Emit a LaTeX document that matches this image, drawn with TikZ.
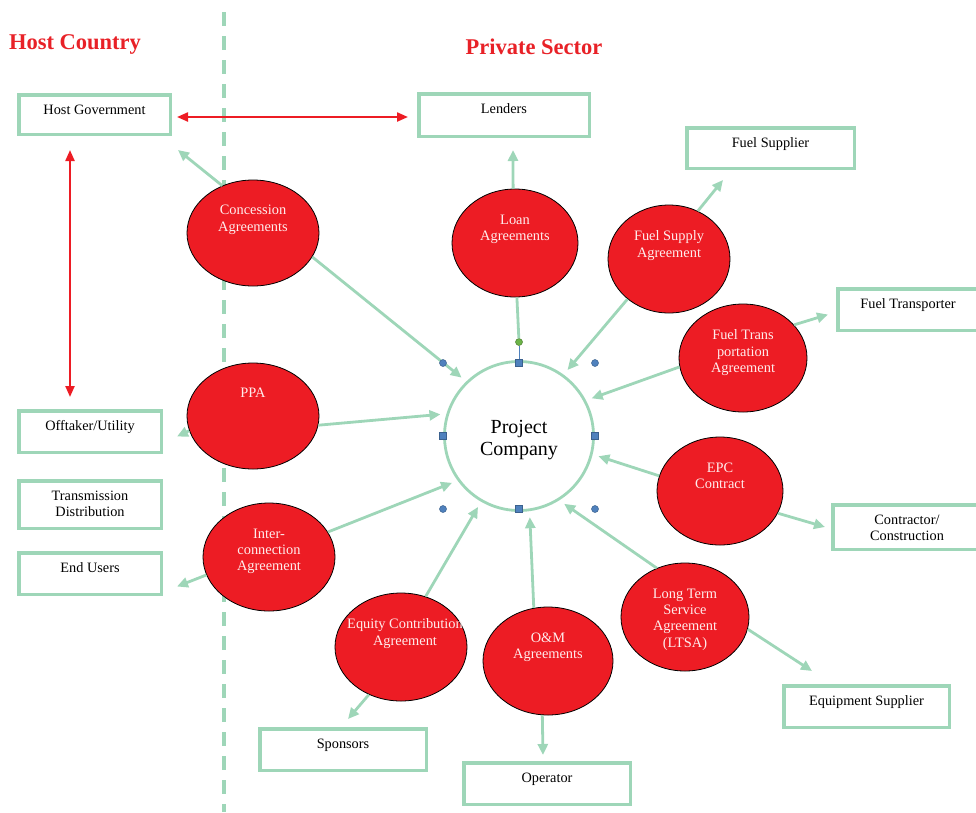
\documentclass[tikz,border=0pt]{standalone}
\usepackage{fontspec}
\setmainfont{Liberation Serif}
\usetikzlibrary{arrows.meta,shapes.geometric,calc}
\definecolor{mint}{RGB}{158,214,184}
\definecolor{ered}{RGB}{237,28,36}
\definecolor{tred}{RGB}{232,33,39}
\definecolor{etxt}{RGB}{255,236,236}
\definecolor{hblue}{RGB}{79,129,189}
\definecolor{hgreen}{RGB}{108,180,72}
\begin{document}
\begin{tikzpicture}[x=1pt,y=-1pt,
  title/.style={font=\fontsize{22.5}{26}\selectfont\bfseries,text=tred,inner sep=0pt},
  box/.style={draw=mint,line width=3.5pt,fill=white,inner sep=0pt},
  boxtxt/.style={anchor=north,inner sep=0pt,align=center,font=\fontsize{14.3}{15.5}\selectfont,text=black},
  agr/.style={ellipse,draw=black,line width=0.8pt,fill=ered,inner sep=0pt},
  agrtxt/.style={anchor=north,inner sep=0pt,align=center,font=\fontsize{14.4}{16.3}\selectfont,text=etxt},
  flow/.style={draw=mint,line width=2.8pt,-{Triangle[length=11pt,width=10pt]}},
  inflow/.style={flow,shorten >=6pt},
  link/.style={draw=ered,line width=2.2pt,{Triangle[length=11pt,width=9pt]}-{Triangle[length=11pt,width=9pt]}},
  divider/.style={draw=mint,line width=4pt,dash pattern=on 14pt off 10pt},
  hsq/.style={rectangle,fill=hblue,draw=hblue!75!black,line width=0.5pt,minimum size=7pt,inner sep=0pt},
  hci/.style={circle,fill=hblue,draw=hblue!75!black,line width=0.5pt,minimum size=7pt,inner sep=0pt},
  hrot/.style={circle,fill=hgreen,draw=hgreen!70!black,line width=0.5pt,minimum size=7pt,inner sep=0pt}
]
\useasboundingbox (0,0) rectangle (976,812);

% divider
\coordinate (dtop) at (224,12);
\coordinate (dbot) at (224,812);
\draw[divider] (dtop) -- (dbot);

% titles
\node[title] (hc) at (75,44) {Host Country};
\node[title] (ps) at (534,47) {Private Sector};

% boxes
\node[box,minimum width=151.5pt,minimum height=39.5pt] (hg) at (94.5,114.5) {};
\node[box,minimum width=170.5pt,minimum height=42.5pt] (lend) at (504,115) {};
\node[box,minimum width=167.5pt,minimum height=40.5pt] (fsup) at (770.5,148) {};
\node[box,minimum width=140.5pt,minimum height=41.5pt] (ftr) at (908,309.5) {};
\node[box,minimum width=142.5pt,minimum height=41.5pt] (off) at (90,431.5) {};
\node[box,minimum width=142.5pt,minimum height=47.5pt] (td) at (90,504.5) {};
\node[box,minimum width=142.5pt,minimum height=41.5pt] (eu) at (90,573.5) {};
\node[box,minimum width=148.5pt,minimum height=44.5pt] (cc) at (907,527) {};
\node[box,minimum width=165.5pt,minimum height=41.5pt] (eq) at (866.5,706.5) {};
\node[box,minimum width=166.5pt,minimum height=41.5pt] (sp) at (343,749.5) {};
\node[box,minimum width=166.5pt,minimum height=41.5pt] (op) at (547,783.5) {};

\node[boxtxt] (hgt) at ($(hg.north)+(0,11.5)$) {Host Government};
\node[boxtxt] (lendt) at ($(lend.north)+(0,11.5)$) {Lenders};
\node[boxtxt] (fsupt) at ($(fsup.north)+(0,11.5)$) {Fuel Supplier};
\node[boxtxt] (ftrt) at ($(ftr.north)+(0,11.5)$) {Fuel Transporter};
\node[boxtxt] (offt) at ($(off.north)+(0,11.5)$) {Offtaker/Utility};
\node[boxtxt] (tdt) at ($(td.north)+(0,12)$) {Transmission\\Distribution};
\node[boxtxt] (eut) at ($(eu.north)+(0,11.5)$) {End Users};
\node[boxtxt] (cct) at ($(cc.north)+(0,12)$) {Contractor/\\Construction};
\node[boxtxt] (eqt) at ($(eq.north)+(0,11.5)$) {Equipment Supplier};
\node[boxtxt] (spt) at ($(sp.north)+(0,11.5)$) {Sponsors};
\node[boxtxt] (opt) at ($(op.north)+(0,12)$) {Operator};

% project company
\node[circle,draw=mint,line width=2.8pt,minimum size=149pt,inner sep=0pt,
      label={[name=pct,align=center,font=\fontsize{20}{21.5}\selectfont,yshift=-4pt]center:Project\\Company}] (pc) at (519,436) {};

% agreements
\node[agr,minimum width=132pt,minimum height=106pt] (conc) at (253,233) {};
\node[agr,minimum width=126pt,minimum height=108pt] (loan) at (515,243) {};
\node[agr,minimum width=122pt,minimum height=108pt] (fsa) at (669,259) {};
\node[agr,minimum width=128pt,minimum height=108pt] (fta) at (743,358) {};
\node[agr,minimum width=132pt,minimum height=106pt] (ppa) at (253,416) {};
\node[agr,minimum width=132pt,minimum height=108pt] (ic) at (269,557) {};
\node[agr,minimum width=126pt,minimum height=108pt] (epc) at (720,491) {};
\node[agr,minimum width=128pt,minimum height=108pt] (ltsa) at (685,617) {};
\node[agr,minimum width=132pt,minimum height=108pt] (eca) at (401,647) {};
\node[agr,minimum width=130pt,minimum height=108pt] (om) at (548,661) {};

\node[agrtxt] (conct) at ($(conc.center)+(0,-28)$) {Concession\\Agreements};
\node[agrtxt] (loant) at ($(loan.center)+(0,-28.5)$) {Loan\\Agreements};
\node[agrtxt] (fsat) at ($(fsa.center)+(0,-28.5)$) {Fuel Supply\\Agreement};
\node[agrtxt] (ftat) at ($(fta.center)+(0,-28.5)$) {Fuel Trans\\portation\\Agreement};
\node[agrtxt] (ppat) at ($(ppa.center)+(0,-28)$) {PPA};
\node[agrtxt] (ict) at ($(ic.center)+(0,-28.5)$) {Inter-\\connection\\Agreement};
\node[agrtxt] (epct) at ($(epc.center)+(0,-28.5)$) {EPC\\Contract};
\node[agrtxt] (ltsat) at ($(ltsa.center)+(0,-28.5)$) {Long Term\\Service\\Agreement\\(LTSA)};
\node[agrtxt] (ecat) at ($(eca.center)+(4,-28.5)$) {Equity Contribution\\Agreement};
\node[agrtxt] (omt) at ($(om.center)+(0,-28.5)$) {O\&M\\Agreements};

% flows into project company
\draw[inflow] (conc.-22) -- (pc.134);
\draw[inflow] (fsa.224) -- (pc.54);
\draw[inflow] (fta.188) -- (pc.28);
\draw[inflow] (ppa.-8) -- (pc.163);
\draw[inflow] (epc.166) -- (pc.-14);
\draw[inflow] (ic.23) -- (pc.216);
\draw[inflow] (ltsa.120) -- (pc.-58);
\draw[inflow] (eca.64) -- (pc.240);
\draw[inflow] (om.105) -- (pc.-82);

% flows to parties
\draw[flow] (conc.123) -- ($(hg.south east)+(6,14)$);
\draw[flow] (loan.92) -- ($(lend.south)+(9,12)$);
\draw[flow] (fsa.59) -- ($(fsup.south west)+(38,10)$);
\draw[flow] (fta.33) -- ($(ftr.west)+(-8,5)$);
\draw[flow] (ppa.193) -- ($(off.east)+(14,5)$);
\draw[flow] (epc.-21) -- ($(cc.west)+(-6,0)$);
\draw[flow] (ic.196) -- ($(eu.east)+(14,13)$);
\draw[flow] (ltsa.-11) -- ($(eq.north west)+(30,-13)$);
\draw[flow] (eca.236) -- ($(sp.north)+(5,-8)$);
\draw[flow] (om.264) -- ($(op.north)+(-4,-6)$);

% red links
\draw[link] ($(hg.east)+(5,2.5)$) -- ($(lend.west)+(-9,2)$);
\draw[link] ($(hg.south)+(-24.5,14)$) -- ($(off.north)+(-20,-12)$);

% selection handles
\node[hrot] (hr) at (519,342) {};
\draw[draw=mint,line width=2.8pt] (loan.-88) -- (hr);
\node[hsq] (hn) at (519,363) {};
\draw[hblue,line width=0.8pt] (hr) -- (hn);
\node[hsq] (hw) at (443,436) {};
\node[hsq] (he) at (595,436) {};
\node[hsq] (hs) at (519,509) {};
\node[hci] (hnw) at (443,363) {};
\node[hci] (hne) at (595,363) {};
\node[hci] (hsw) at (443,509) {};
\node[hci] (hse) at (595,509) {};
\end{tikzpicture}
\end{document}
